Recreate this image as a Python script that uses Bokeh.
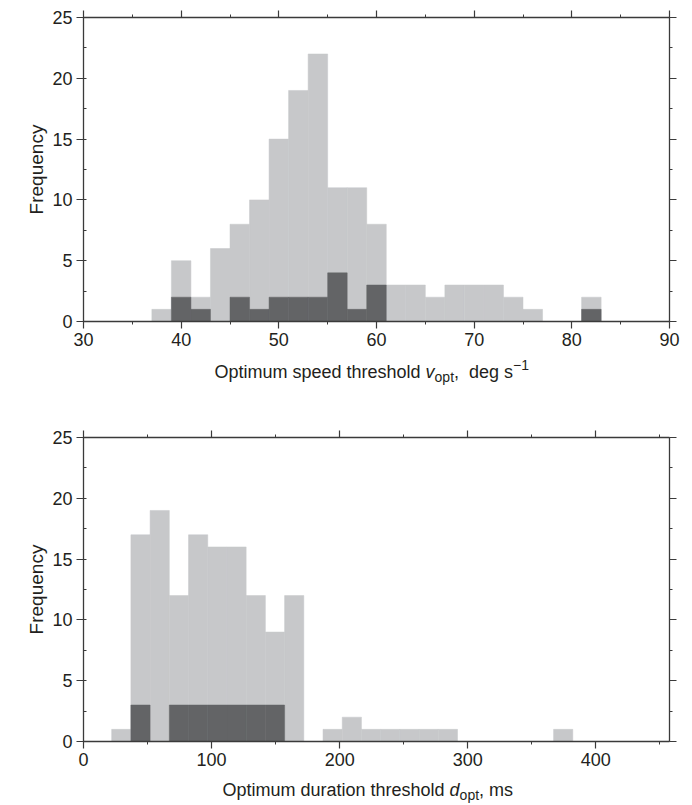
from bokeh.plotting import figure
from bokeh.layouts import column
from bokeh.models import Range1d, SingleIntervalTicker, LinearAxis, ColumnDataSource
from bokeh.core.properties import value
from bokeh.embed import file_html
from bokeh.resources import INLINE

# ---------------- data ----------------
# Top: optimum speed threshold (deg/s), bins of width 2 starting at 37
speed_bin_start = 37
speed_bin_width = 2
speed_all = [1, 5, 2, 6, 8, 10, 15, 19, 22, 11, 11, 8, 3, 3, 2, 3, 3, 3, 2, 1, 0, 0, 2]
speed_sub = [0, 2, 1, 0, 2, 1, 2, 2, 2, 4, 1, 3, 0, 0, 0, 0, 0, 0, 0, 0, 0, 0, 1]

# Bottom: optimum duration threshold (ms), bins of width 15 starting at 22
dur_bin_start = 22
dur_bin_width = 15
dur_all = [1, 17, 19, 12, 17, 16, 16, 12, 9, 12, 0, 1, 2, 1, 1, 1, 1, 1, 0, 0, 0, 0, 0, 1]
dur_sub = [0, 3, 0, 3, 3, 3, 3, 3, 3, 0, 0, 0, 0, 0, 0, 0, 0, 0, 0, 0, 0, 0, 0, 0]

speed_xrange = (30, 90)
dur_xrange = (0, 457.5)
y_range = (0, 25)

# axis titles: (text, font style, kind, extra gap before in px)
speed_label = [("Optimum speed threshold ", "normal", "main", 0),
               ("v", "italic", "main", 0),
               ("opt", "normal", "sub", 0),
               (",", "normal", "main", 0),
               ("deg s", "normal", "main", 10),
               ("\u22121", "normal", "sup", 0)]
dur_label = [("Optimum duration threshold ", "normal", "main", 0),
             ("d", "italic", "main", 0),
             ("opt", "normal", "sub", 0),
             (", ms", "normal", "main", 0)]

LIGHT = "#c7c8ca"
DARK = "#636466"
TXT = "#231f20"
AXC = "#3a3a3a"
FONT = "Liberation Sans"
MAIN_SIZE = 18
SMALL_SIZE = 14

# Arial/Liberation Sans advance widths (per 1000 em) for label layout
W = {' ': 278, ',': 278, 'O': 778, 'p': 556, 't': 278, 'i': 222, 'm': 833,
     'u': 556, 's': 500, 'e': 556, 'd': 556, 'h': 556, 'r': 333, 'o': 556,
     'l': 222, 'v': 500, 'g': 556, 'a': 556, 'n': 556, '\u2212': 584, '1': 556}

FRAME_L, FRAME_R = 83, 23
FRAME_W, FRAME_H = 586, 304


def tw(s, size):
    return sum(W.get(c, 556) for c in s) * size / 1000.0


def style_axis(ax, labels=True, side="below"):
    ax.axis_line_color = AXC
    ax.axis_line_width = 1.3
    ax.major_tick_line_color = AXC
    ax.minor_tick_line_color = AXC
    ax.major_tick_line_width = 1.2
    ax.minor_tick_line_width = 1
    ax.major_tick_out = 7
    ax.major_tick_in = 0
    if side == "left":
        ax.minor_tick_out = 0
        ax.minor_tick_in = 3
    else:
        ax.minor_tick_out = 3
        ax.minor_tick_in = 0
    ax.major_label_text_font = FONT
    ax.major_label_text_font_size = "18px"
    ax.major_label_text_color = TXT
    ax.major_label_standoff = 4
    if not labels:
        ax.major_label_text_font_size = "0px"
        ax.major_label_text_color = None
        ax.major_label_standoff = 0


def make_hist(bin_start, bin_width, counts_all, counts_sub, xr, xint,
              height, border_top, border_bottom):
    p = figure(width=692, height=height, output_backend="svg", toolbar_location=None,
               x_range=Range1d(*xr), y_range=Range1d(*y_range),
               frame_width=FRAME_W, frame_height=FRAME_H,
               min_border_left=FRAME_L, min_border_right=FRAME_R,
               min_border_top=border_top, min_border_bottom=border_bottom,
               x_axis_location=None, y_axis_location=None)
    p.outline_line_color = None
    p.grid.visible = False
    p.background_fill_color = "white"
    p.border_fill_color = "white"

    n = len(counts_all)
    lefts = [bin_start + i * bin_width for i in range(n)]
    rights = [l + bin_width for l in lefts]
    src_all = ColumnDataSource(dict(left=lefts, right=rights, top=counts_all,
                                    bottom=[0] * n))
    src_sub = ColumnDataSource(dict(left=lefts, right=rights, top=counts_sub,
                                    bottom=[0] * n))
    p.quad(left="left", right="right", top="top", bottom="bottom", source=src_all,
           fill_color=LIGHT, line_color=LIGHT, line_width=0.5)
    p.quad(left="left", right="right", top="top", bottom="bottom", source=src_sub,
           fill_color=DARK, line_color=DARK, line_width=0.5)

    xb = LinearAxis(ticker=SingleIntervalTicker(interval=xint, num_minor_ticks=2))
    style_axis(xb, True, "below")
    p.add_layout(xb, "below")
    xa = LinearAxis(ticker=SingleIntervalTicker(interval=xint, num_minor_ticks=2))
    style_axis(xa, False, "above")
    p.add_layout(xa, "above")

    yl = LinearAxis(ticker=SingleIntervalTicker(interval=5, num_minor_ticks=2),
                    axis_label="Frequency")
    style_axis(yl, True, "left")
    yl.axis_label_text_font = FONT
    yl.axis_label_text_font_size = "19px"
    yl.axis_label_text_font_style = "normal"
    yl.axis_label_text_color = TXT
    yl.axis_label_standoff = 2
    p.add_layout(yl, "left")
    yr = LinearAxis(ticker=SingleIntervalTicker(interval=5, num_minor_ticks=2))
    style_axis(yr, False, "right")
    p.add_layout(yr, "right")
    return p


def label_strip(pieces, height, start_px, baseline_px):
    """A blank strip whose x coordinates equal canvas pixels, holding a rich axis title."""
    s = figure(width=692, height=height, output_backend="svg", toolbar_location=None,
               x_range=Range1d(FRAME_L, FRAME_L + FRAME_W), y_range=Range1d(height, 0),
               frame_width=FRAME_W, frame_height=height,
               min_border_left=FRAME_L, min_border_right=FRAME_R,
               min_border_top=0, min_border_bottom=0,
               x_axis_location=None, y_axis_location=None)
    s.outline_line_color = None
    s.grid.visible = False
    s.border_fill_color = "white"
    x = start_px
    for t, st, kind, gap in pieces:
        size = MAIN_SIZE if kind == "main" else SMALL_SIZE
        dy = {"main": 0, "sub": 5, "sup": -7}[kind]
        x += gap
        s.text(x=[x], y=[baseline_px + dy], text=[t],
               text_font=value(FONT), text_font_size=value(f"{size}px"),
               text_font_style=st, text_color=TXT,
               text_baseline="alphabetic", text_align="left")
        x += tw(t, size)
    return s


p1 = make_hist(speed_bin_start, speed_bin_width, speed_all, speed_sub,
               speed_xrange, 10, 356, 17, 35)
l1 = label_strip(speed_label, 44, 214, 15)
p2 = make_hist(dur_bin_start, dur_bin_width, dur_all, dur_sub,
               dur_xrange, 100, 373, 37, 32)
l2 = label_strip(dur_label, 32, 222, 16)

layout = column(p1, l1, p2, l2, spacing=0)
open("out.html", "w").write(file_html(layout, INLINE))
